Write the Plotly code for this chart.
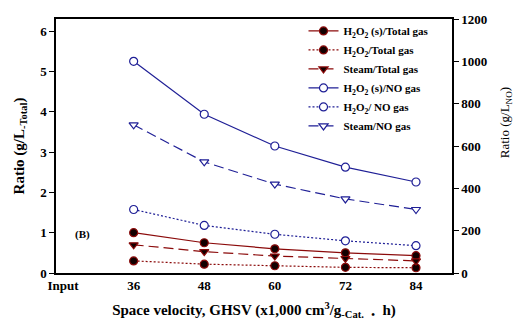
import plotly.graph_objects as go

# GHSV categories (x1,000 cm3/g-cat h); "Input" is a reference slot with no data
categories = ["Input", "36", "48", "60", "72", "84"]
ghsv = ["36", "48", "60", "72", "84"]

# Ratios per total gas volume (g/L-Total), left axis
h2o2_s_total = [1.00, 0.75, 0.60, 0.50, 0.43]
h2o2_total = [0.30, 0.22, 0.18, 0.14, 0.13]
steam_total = [0.70, 0.53, 0.42, 0.36, 0.30]

# Ratios per NO gas volume (g/L-NO), right axis
h2o2_s_no = [1000, 750, 600, 500, 430]
h2o2_no = [300, 225, 183, 152, 129]
steam_no = [700, 525, 420, 350, 300]

RED = "#8b0a0a"
BLUE = "#1f1f96"
FONT = "Liberation Serif"

fig = go.Figure()

def add(y, name, color, dash, symbol, fill, axis):
    fig.add_trace(go.Scatter(
        x=ghsv, y=y, name=name, mode="lines+markers", yaxis=axis,
        line=dict(color=color, width=1.2, dash=dash),
        marker=dict(symbol=symbol, size=8, color=fill,
                    line=dict(color=color, width=1.2)),
    ))

add(h2o2_s_total, "<b>H<sub>2</sub>O<sub>2</sub> (s)/Total gas</b>", RED, "solid", "circle", "#120000", "y")
add(h2o2_total, "<b>H<sub>2</sub>O<sub>2</sub>/Total gas</b>", RED, "2px,2px", "circle", "#120000", "y")
add(steam_total, "<b>Steam/Total gas</b>", RED, "10px,5px", "triangle-down", "#120000", "y")
add(h2o2_s_no, "<b>H<sub>2</sub>O<sub>2</sub> (s)/NO gas</b>", BLUE, "solid", "circle", "white", "y2")
add(h2o2_no, "<b>H<sub>2</sub>O<sub>2</sub>/ NO gas</b>", BLUE, "2px,2px", "circle", "white", "y2")
add(steam_no, "<b>Steam/NO gas</b>", BLUE, "10px,5px", "triangle-down", "white", "y2")

tickfont = dict(family=FONT, size=13, color="black")

fig.update_layout(
    width=514, height=328,
    margin=dict(l=56, r=62, t=13, b=52),
    paper_bgcolor="white", plot_bgcolor="white",
    font=dict(family=FONT, color="black"),
    showlegend=True,
    legend=dict(x=0.625, y=1.01, xanchor="left", yanchor="top",
                bgcolor="rgba(0,0,0,0)", font=dict(family=FONT, size=11),
                tracegroupgap=0, itemwidth=30),
    xaxis=dict(
        type="category", categoryorder="array", categoryarray=categories,
        tickvals=categories, ticktext=["<b>%s</b>" % c for c in categories],
        range=[-0.1, 5.51], showgrid=False, zeroline=False,
        showline=True, linecolor="black", linewidth=1.5, mirror=True,
        ticks="", tickfont=tickfont,
        title=dict(text="<b>Space velocity, GHSV (x1,000 cm<sup>3</sup>/g<sub>-Cat.</sub>  <sub>•</sub>  h)</b>",
                   font=dict(family=FONT, size=15), standoff=12),
    ),
    yaxis=dict(
        range=[0, 6.3], tickvals=[0, 1, 2, 3, 4, 5, 6],
        ticktext=["<b>%d</b>" % v for v in range(7)],
        showgrid=False, zeroline=False,
        showline=True, linecolor="black", linewidth=1.5,
        ticks="outside", ticklen=5, tickcolor="black", tickfont=tickfont,
        title=dict(text="<b>Ratio (g/L<sub>-Total</sub>)</b>",
                   font=dict(family=FONT, size=15), standoff=12),
    ),
    yaxis2=dict(
        overlaying="y", side="right", anchor="x",
        range=[0, 1200], tickvals=[0, 200, 400, 600, 800, 1000, 1200],
        ticktext=["<b>%d</b>" % v for v in [0, 200, 400, 600, 800, 1000, 1200]],
        showgrid=False, zeroline=False,
        showline=True, linecolor="black", linewidth=1.5,
        ticks="outside", ticklen=5, tickcolor="black", tickfont=tickfont,
    ),
    annotations=[
        dict(text="<b>(B)</b>", xref="paper", yref="paper", x=0.043, y=0.12,
             showarrow=False, font=dict(family=FONT, size=11)),
        dict(text="Ratio (g/L<sub>NO</sub>)", xref="paper", yref="paper",
             x=1.134, y=0.59, xanchor="center", yanchor="middle",
             textangle=-90, showarrow=False,
             font=dict(family=FONT, size=13, color="black")),
    ],
)

fig.write_html("out.html")
